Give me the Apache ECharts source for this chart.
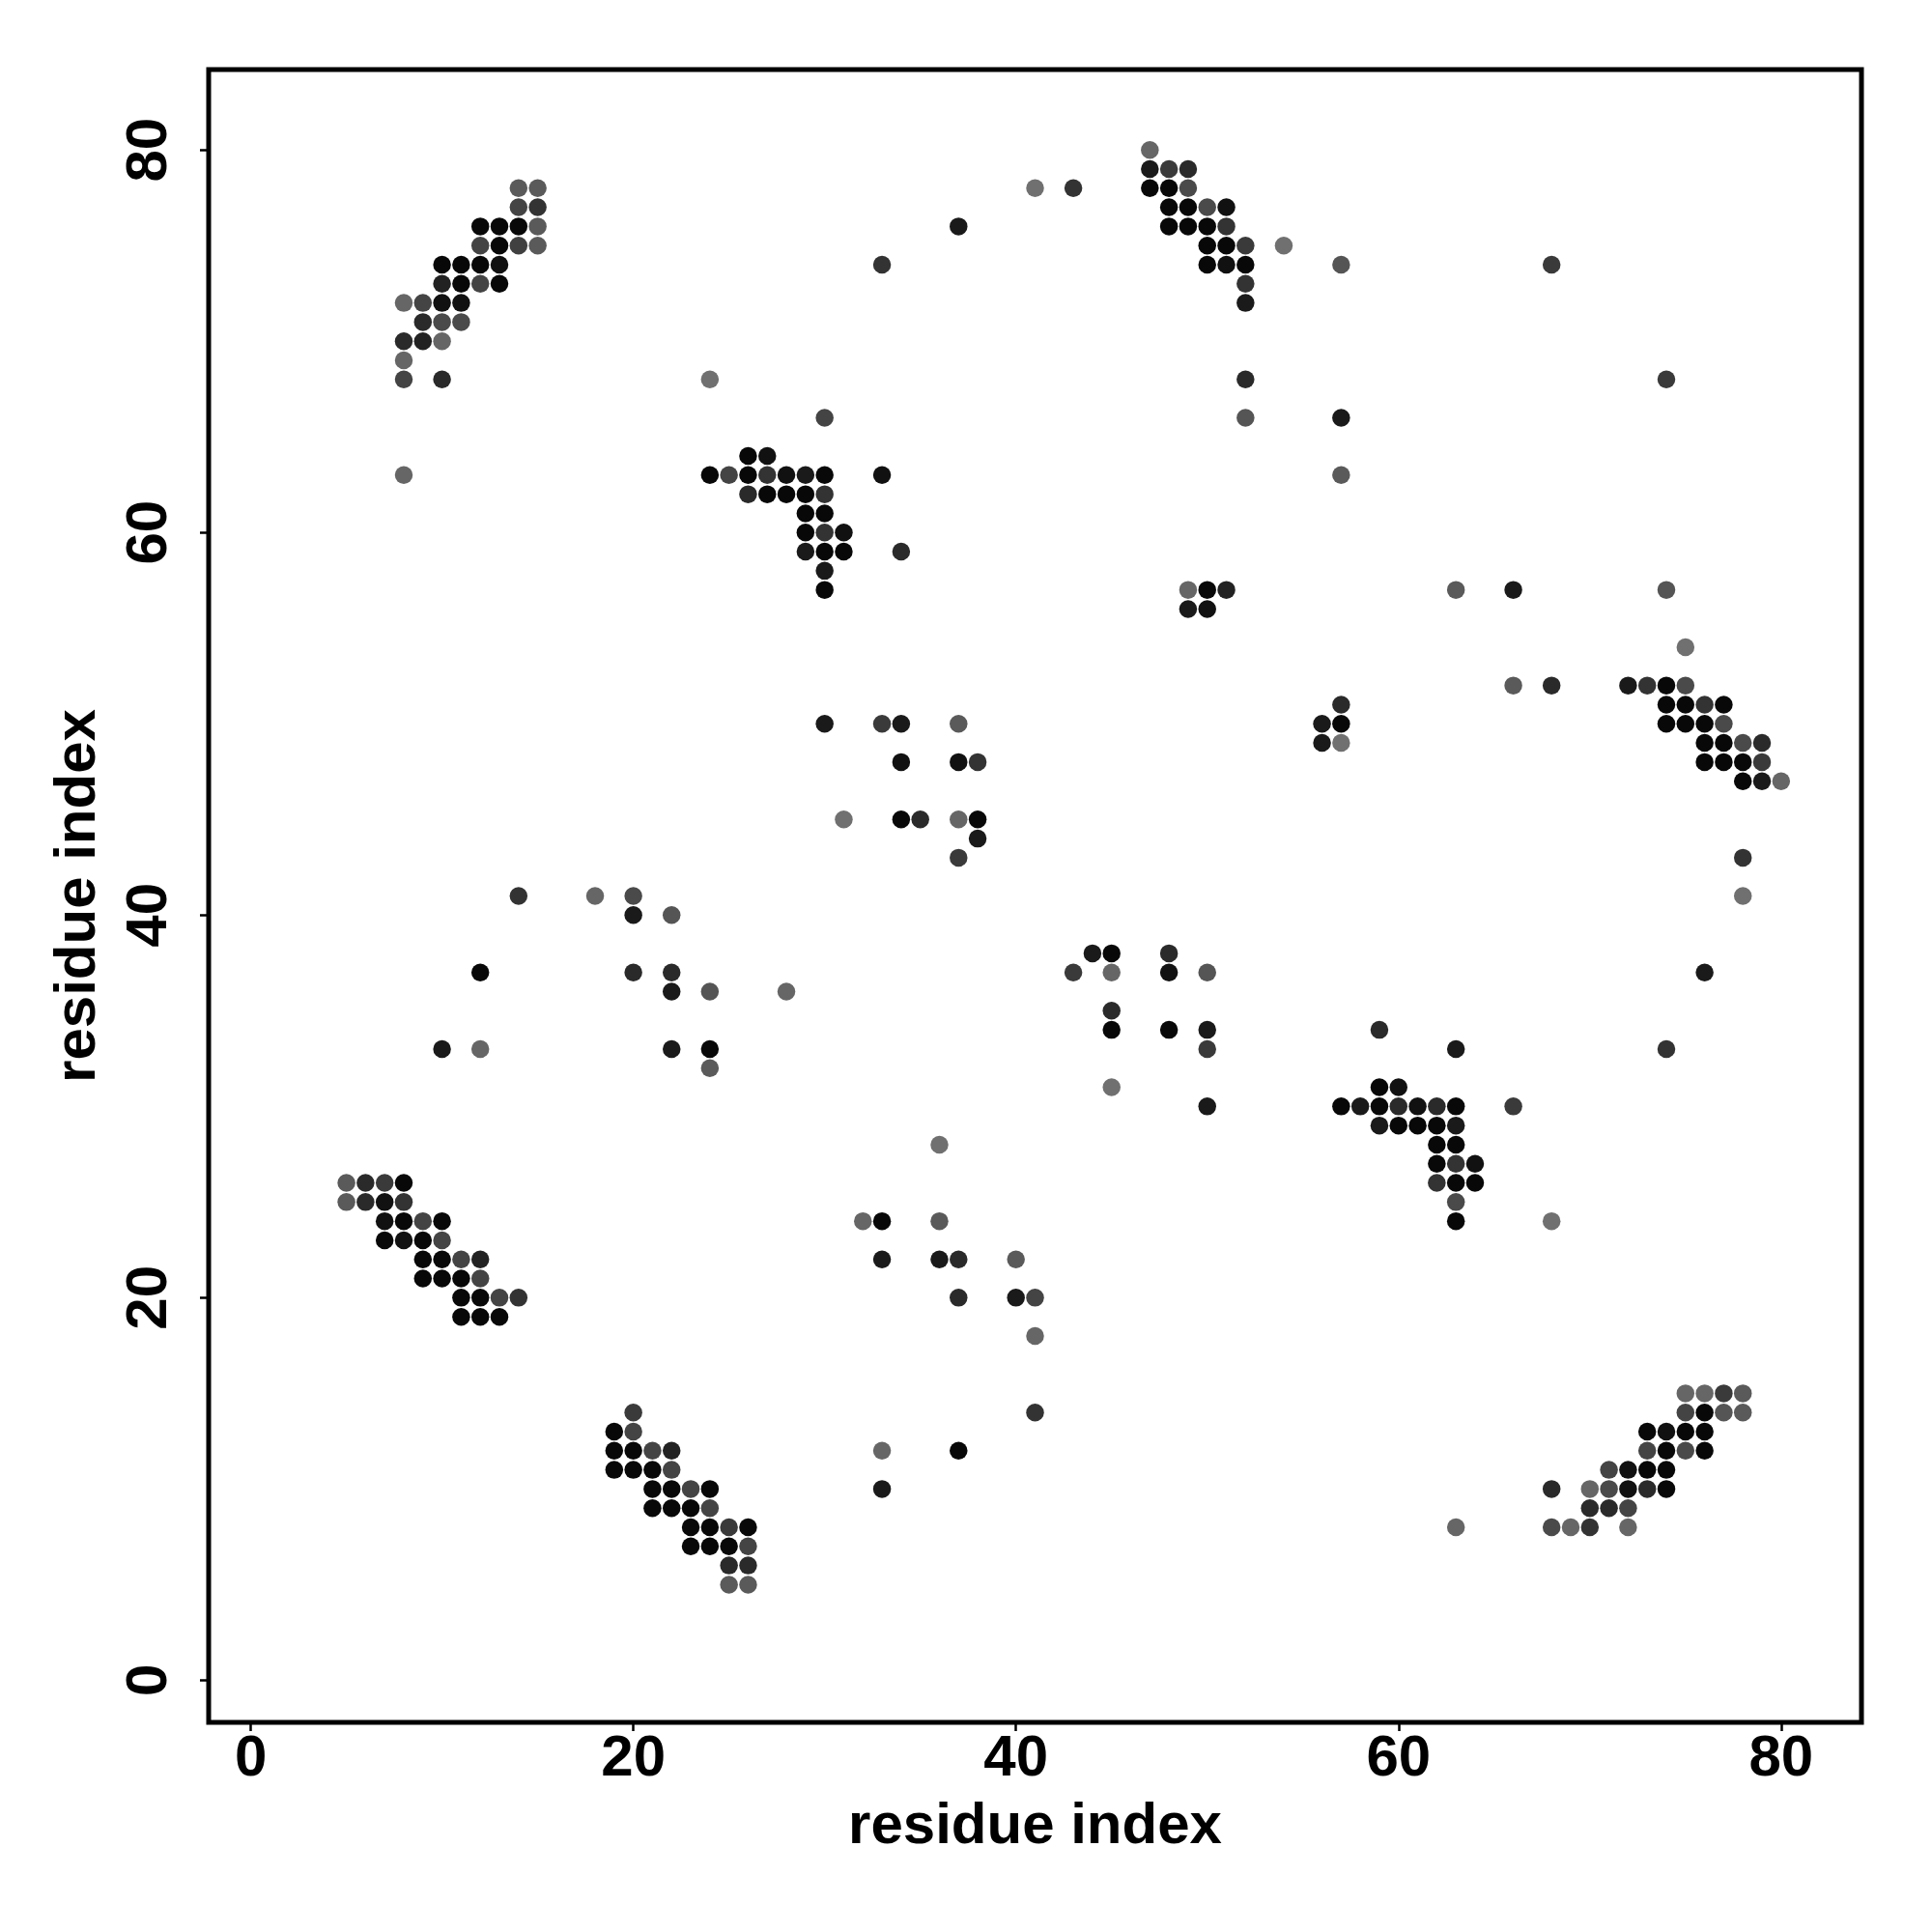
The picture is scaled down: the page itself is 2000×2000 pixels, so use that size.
<!DOCTYPE html>
<html><head><meta charset="utf-8">
<script src="https://cdn.jsdelivr.net/npm/echarts@6/dist/echarts.min.js"></script>
<style>html,body{margin:0;padding:0;background:#fff}#c{width:2000px;height:2000px}</style>
</head><body><div id="c"></div>
<script>
// Tick labels and titles
const tickValues = [0, 20, 40, 60, 80];
const xTitle = 'residue index';
const yTitle = 'residue index';

// Contacts: [residue i, residue j, gray level (0 = black ... 112 = light gray)]
const contactsTopLeft = [
  [14,78,90],[15,78,90],
  [14,77,68],[15,77,51],
  [12,76,8],[13,76,8],[14,76,8],[15,76,90],
  [12,75,68],[13,75,8],[14,75,64],[15,75,90],
  [10,74,8],[11,74,8],[12,74,8],[13,74,17],
  [10,73,34],[11,73,8],[12,73,68],[13,73,8],
  [8,72,102],[9,72,68],[10,72,17],[11,72,17],
  [9,71,42],[10,71,74],[11,71,74],
  [8,70,42],[9,70,34],[10,70,102],
  [8,69,102],
  [8,68,68],[10,68,42],
  [24,68,112],
  [8,63,102]
];
const contactsUpperMid = [
  [24,63,8],[25,63,68],[26,63,8],[27,63,51],[28,63,17],[29,63,26],[30,63,8],[33,63,17],
  [26,64,8],[27,64,17],
  [26,62,42],[27,62,8],[28,62,8],[29,62,8],[30,62,51],
  [29,61,8],[30,61,8],
  [29,60,8],[30,60,51],[31,60,17],
  [29,59,26],[30,59,8],[31,59,8],[34,59,42],
  [30,58,26],
  [30,57,8],
  [30,66,68],
  [33,74,51],
  [37,76,26],
  [41,78,112],[43,78,51]
];
const contactsTopCenter = [
  [47,80,102],
  [47,79,26],[48,79,58],[49,79,42],
  [47,78,8],[48,78,8],[49,78,74],
  [48,77,8],[49,77,8],[50,77,74],[51,77,17],
  [48,76,8],[49,76,8],[50,76,8],[51,76,51],
  [50,75,8],[51,75,8],[52,75,58],[54,75,112],
  [50,74,8],[51,74,17],[52,74,8],
  [52,73,51],
  [52,72,26],
  [52,68,42],
  [52,66,85],
  [49,57,102],[50,57,8],[51,57,34],
  [49,56,26],[50,56,17]
];
const contactsTopRight = [
  [57,74,85],[68,74,58],
  [74,68,58],
  [57,66,26],
  [57,63,90],
  [63,57,90],[66,57,26],[74,57,85]
];
const contactsMidLeft = [
  [14,41,51],[18,41,102],[20,41,74],
  [20,40,26],[22,40,85],
  [12,37,8],[20,37,42],[22,37,42],
  [22,36,26],[24,36,85],[28,36,102],
  [10,33,26],[12,33,102],[22,33,26],[24,33,8],
  [24,32,90]
];
const contactsCenter = [
  [30,50,26],[33,50,58],[34,50,26],[37,50,90],
  [34,48,17],[37,48,17],[38,48,51],
  [31,45,112],[34,45,8],[35,45,42],[37,45,102],[38,45,8],
  [38,44,26],
  [37,43,58],
  [44,38,26],[45,38,8],[48,38,42],
  [43,37,58],[45,37,102],[48,37,17],[50,37,85],
  [45,35,42],
  [45,34,8],[48,34,8],[50,34,26],
  [50,33,58],
  [45,31,112],
  [50,30,26],
  [36,28,112]
];
const contactsMidRight = [
  [75,54,112],
  [66,52,90],[68,52,42],[72,52,26],[73,52,51],[74,52,8],[75,52,74],
  [57,51,42],[74,51,8],[75,51,8],[76,51,51],[77,51,8],
  [56,50,26],[57,50,8],[74,50,8],[75,50,8],[76,50,8],[77,50,74],
  [56,49,26],[57,49,112],[76,49,8],[77,49,8],[78,49,74],[79,49,42],
  [76,48,8],[77,48,8],[78,48,8],[79,48,58],
  [78,47,8],[79,47,26],[80,47,102],
  [78,43,51],
  [78,41,112],
  [76,37,26],
  [59,34,42],
  [63,33,26],[74,33,51],
  [59,31,8],[60,31,17],
  [57,30,8],[58,30,26],[59,30,8],[60,30,42],[61,30,17],[62,30,42],[63,30,8],[66,30,58],
  [59,29,26],[60,29,8],[61,29,8],[62,29,8],[63,29,26],
  [62,28,8],[63,28,8],
  [62,27,8],[63,27,51],[64,27,17],
  [62,26,51],[63,26,8],[64,26,8],
  [63,25,74],
  [63,24,8],[68,24,112]
];
const contactsBottomRight = [
  [75,15,102],[76,15,102],[77,15,58],[78,15,90],
  [75,14,68],[76,14,8],[77,14,85],[78,14,90],
  [73,13,8],[74,13,17],[75,13,8],[76,13,8],
  [73,12,68],[74,12,8],[75,12,74],[76,12,8],
  [71,11,68],[72,11,17],[73,11,8],[74,11,8],
  [68,10,42],[70,10,102],[71,10,74],[72,10,17],[73,10,42],[74,10,8],
  [70,9,42],[71,9,42],[72,9,68],
  [63,8,102],[68,8,74],[69,8,102],[70,8,51],[72,8,102]
];
const contactsBottomLeft = [
  [5,26,90],[6,26,42],[7,26,58],[8,26,8],
  [5,25,90],[6,25,42],[7,25,17],[8,25,51],
  [7,24,17],[8,24,8],[9,24,68],[10,24,8],
  [7,23,8],[8,23,17],[9,23,8],[10,23,68],
  [9,22,8],[10,22,8],[11,22,68],[12,22,34],
  [9,21,8],[10,21,8],[11,21,8],[12,21,68],
  [11,20,8],[12,20,8],[13,20,68],[14,20,51],
  [11,19,8],[12,19,8],[13,19,8],
  [20,14,58],
  [19,13,8],[20,13,68],
  [19,12,8],[20,12,8],[21,12,68],[22,12,34],
  [19,11,8],[20,11,8],[21,11,8],[22,11,68],
  [21,10,8],[22,10,8],[23,10,68],[24,10,8],
  [21,9,8],[22,9,8],[23,9,8],[24,9,68],
  [23,8,8],[24,8,8],[25,8,58],[26,8,8],
  [23,7,8],[24,7,8],[25,7,8],[26,7,68],
  [25,6,42],[26,6,42],
  [25,5,90],[26,5,90]
];
const contactsBottomCenter = [
  [32,24,102],[33,24,8],[36,24,90],
  [33,22,26],[36,22,26],[37,22,42],[40,22,90],
  [37,20,42],[40,20,26],[41,20,68],
  [41,18,102],
  [41,14,51],
  [33,12,102],[37,12,8],
  [33,10,26]
];

const allContacts = [].concat(
  contactsTopLeft, contactsUpperMid, contactsTopCenter, contactsTopRight,
  contactsMidLeft, contactsCenter, contactsMidRight, contactsBottomRight,
  contactsBottomLeft, contactsBottomCenter
);

const FONT = 'Liberation Sans';
const labelStyle = { color: '#000', fontSize: 60, fontWeight: 'bold', fontFamily: FONT };

const chart = echarts.init(document.getElementById('c'), null, { renderer: 'canvas', width: 2000, height: 2000 });
chart.setOption({
  animation: false,
  backgroundColor: '#fff',
  grid: {
    left: 216, right: 73, top: 72, bottom: 217,
    show: true, borderColor: '#000', borderWidth: 5, backgroundColor: 'transparent',
    containLabel: false, outerBoundsMode: 'none'
  },
  xAxis: {
    type: 'value', min: -2.2, max: 84.2,
    axisLine: { show: false, onZero: false },
    splitLine: { show: false },
    axisTick: { show: true, customValues: tickValues, length: 9, lineStyle: { color: '#000', width: 2.5 } },
    axisLabel: Object.assign({ customValues: tickValues, margin: 8 }, labelStyle),
    name: xTitle, nameLocation: 'middle', nameGap: 78,
    nameTextStyle: Object.assign({}, labelStyle)
  },
  yAxis: {
    type: 'value', min: -2.2, max: 84.2,
    axisLine: { show: false, onZero: false },
    splitLine: { show: false },
    axisTick: { show: true, customValues: tickValues, length: 9, lineStyle: { color: '#000', width: 2.5 } },
    axisLabel: Object.assign({ customValues: tickValues, margin: 31, rotate: 90 }, labelStyle),
    name: yTitle, nameLocation: 'middle', nameGap: 105, nameRotate: 90,
    nameTextStyle: Object.assign({}, labelStyle)
  },
  series: [{
    type: 'scatter',
    data: allContacts,
    symbol: 'circle',
    symbolSize: 18.5,
    itemStyle: {
      opacity: 1,
      color: function (p) { const g = p.data[2]; return 'rgb(' + g + ',' + g + ',' + g + ')'; }
    },
    emphasis: { disabled: true }
  }]
});
</script>
</body></html>
